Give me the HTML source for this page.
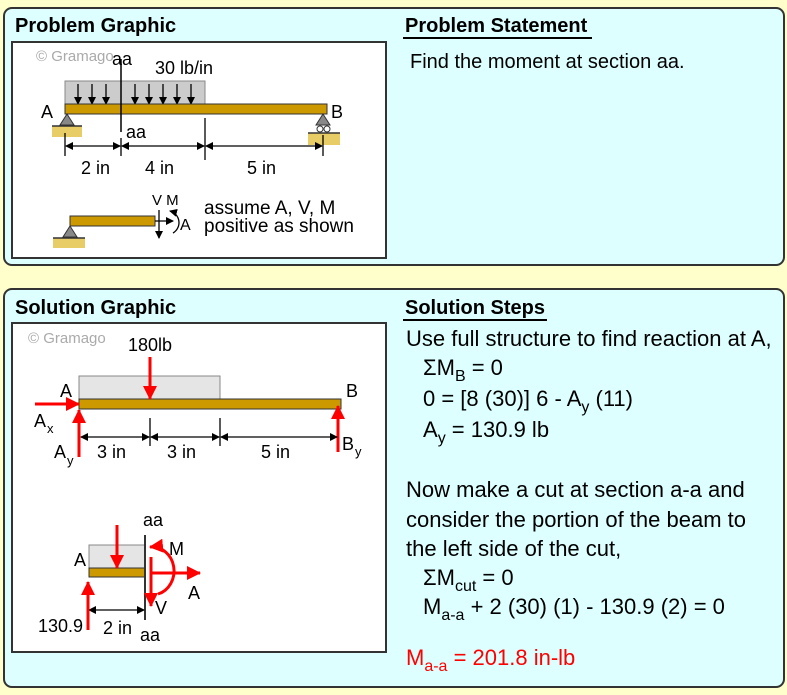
<!DOCTYPE html>
<html><head><meta charset="utf-8"><style>
html,body{margin:0;padding:0;background:#ffffcc}
svg{display:block}
text{font-family:"Liberation Sans",Arial,sans-serif;fill:#000}
</style></head><body>
<svg width="787" height="695" viewBox="0 0 787 695" xmlns="http://www.w3.org/2000/svg">
<defs>
<marker id="ah" markerWidth="8" markerHeight="8" refX="7" refY="4" orient="auto" markerUnits="userSpaceOnUse"><path d="M0,0 L8,4 L0,8 Z" fill="#000"/></marker>
<marker id="ahs" markerWidth="8" markerHeight="8" refX="1" refY="4" orient="auto" markerUnits="userSpaceOnUse"><path d="M8,0 L0,4 L8,8 Z" fill="#000"/></marker>
<marker id="rh" markerWidth="14" markerHeight="14" refX="13" refY="7" orient="auto" markerUnits="userSpaceOnUse"><path d="M0,0 L14,7 L0,14 Z" fill="#f00"/></marker>
</defs>
<rect x="0" y="0" width="787" height="695" fill="#ffffcc"/>
<!-- top panel -->
<rect x="4" y="8" width="780" height="257" rx="8" fill="#ddffff" stroke="#333" stroke-width="2"/>
<rect x="12" y="42" width="374" height="216" fill="#fff" stroke="#333" stroke-width="2"/>
<text x="15" y="32" font-size="20" font-weight="bold">Problem Graphic</text>
<text x="405" y="32" font-size="20" font-weight="bold">Problem Statement</text>
<line x1="403" y1="38" x2="592" y2="38" stroke="#000" stroke-width="2"/>
<text x="410" y="68" font-size="20">Find the moment at section aa.</text>
<text x="36" y="61" font-size="15" style="fill:#aaa">© Gramago</text>
<rect x="65" y="81" width="140" height="23" fill="#ccc" stroke="#888"/>
<g stroke="#000" stroke-width="1.3" marker-end="url(#ah)">
<line x1="78" y1="84" x2="78" y2="104"/><line x1="92" y1="84" x2="92" y2="104"/><line x1="106" y1="84" x2="106" y2="104"/><line x1="135" y1="84" x2="135" y2="104"/><line x1="149" y1="84" x2="149" y2="104"/><line x1="163" y1="84" x2="163" y2="104"/><line x1="177" y1="84" x2="177" y2="104"/><line x1="191" y1="84" x2="191" y2="104"/>
</g>
<rect x="65" y="104" width="262" height="10" fill="#cc9900" stroke="#333"/>
<line x1="121" y1="59" x2="121" y2="132" stroke="#000" stroke-width="1.5"/>
<text x="112" y="65" font-size="18">aa</text>
<text x="126" y="138" font-size="18">aa</text>
<text x="155" y="74" font-size="18">30 lb/in</text>
<text x="41" y="118" font-size="18">A</text>
<text x="331" y="118" font-size="18">B</text>
<path d="M67,114 L60,125 L74,125 Z" fill="#888" stroke="#333"/>
<rect x="52" y="126" width="30" height="11" fill="#e8cc66"/><line x1="52" y1="126" x2="82" y2="126" stroke="#333" stroke-width="1.5"/>
<path d="M323,114 L316,125 L330,125 Z" fill="#888" stroke="#333"/>
<circle cx="320" cy="129" r="3" fill="#fff" stroke="#333"/><circle cx="327" cy="129" r="3" fill="#fff" stroke="#333"/>
<rect x="308" y="133" width="32" height="12" fill="#e8cc66"/><line x1="308" y1="133" x2="340" y2="133" stroke="#333" stroke-width="1.5"/>
<g stroke="#000" stroke-width="1.3">
<line x1="65" y1="133" x2="65" y2="156"/><line x1="121" y1="138" x2="121" y2="156"/><line x1="205" y1="118" x2="205" y2="160"/><line x1="323" y1="135" x2="323" y2="156"/>
<line x1="66" y1="146" x2="120" y2="146" marker-end="url(#ah)" marker-start="url(#ahs)"/>
<line x1="122" y1="146" x2="204" y2="146" marker-end="url(#ah)" marker-start="url(#ahs)"/>
<line x1="206" y1="146" x2="322" y2="146" marker-end="url(#ah)" marker-start="url(#ahs)"/>
</g>
<text x="81" y="174" font-size="18">2 in</text>
<text x="145" y="174" font-size="18">4 in</text>
<text x="247" y="174" font-size="18">5 in</text>
<rect x="70" y="216" width="85" height="10" fill="#cc9900" stroke="#333"/>
<path d="M70,226 L63,237 L77,237 Z" fill="#888" stroke="#333"/>
<rect x="53" y="238" width="32" height="10" fill="#e8cc66"/><line x1="53" y1="238" x2="85" y2="238" stroke="#333" stroke-width="1.5"/>
<g stroke="#000" stroke-width="1.3">
<line x1="155" y1="221" x2="173" y2="221" marker-end="url(#ah)"/>
<line x1="159" y1="210" x2="159" y2="238" marker-end="url(#ah)"/>
<path d="M173,233 A12,12 0 0 0 170,211" fill="none" marker-end="url(#ah)"/>
</g>
<text x="152" y="205" font-size="15">V M</text>
<text x="180" y="230" font-size="16">A</text>
<text x="204" y="214" font-size="19">assume A, V, M</text>
<text x="204" y="232" font-size="19">positive as shown</text>

<!-- bottom panel -->
<rect x="4" y="289" width="780" height="398" rx="8" fill="#ddffff" stroke="#333" stroke-width="2"/>
<rect x="12" y="323" width="374" height="329" fill="#fff" stroke="#333" stroke-width="2"/>
<text x="15" y="314" font-size="20" font-weight="bold">Solution Graphic</text>
<text x="405" y="314" font-size="20" font-weight="bold">Solution Steps</text>
<line x1="403" y1="320" x2="547" y2="320" stroke="#000" stroke-width="2"/>
<text x="28" y="343" font-size="15" style="fill:#aaa">© Gramago</text>
<text x="128" y="351" font-size="18">180lb</text>
<rect x="79" y="376" width="141" height="23" fill="#e5e5e5" stroke="#888"/>
<rect x="79" y="399" width="262" height="10" fill="#cc9900" stroke="#333"/>
<g stroke="#f00" stroke-width="3">
<line x1="150" y1="357" x2="150" y2="399" marker-end="url(#rh)"/>
<line x1="35" y1="404" x2="79" y2="404" marker-end="url(#rh)"/>
<line x1="79" y1="457" x2="79" y2="410" marker-end="url(#rh)"/>
<line x1="338" y1="452" x2="338" y2="406" marker-end="url(#rh)"/>
</g>
<text x="60" y="397" font-size="18">A</text>
<text x="346" y="397" font-size="18">B</text>
<text x="34" y="427" font-size="18">A</text><text x="47" y="433" font-size="13">x</text>
<text x="54" y="458" font-size="18">A</text><text x="67" y="465" font-size="13">y</text>
<text x="342" y="450" font-size="18">B</text><text x="355" y="456" font-size="13">y</text>
<g stroke="#000" stroke-width="1.3">
<line x1="150" y1="418" x2="150" y2="446"/><line x1="220" y1="418" x2="220" y2="446"/>
<line x1="81" y1="437" x2="149" y2="437" marker-end="url(#ah)" marker-start="url(#ahs)"/>
<line x1="151" y1="437" x2="219" y2="437" marker-end="url(#ah)" marker-start="url(#ahs)"/>
<line x1="221" y1="437" x2="337" y2="437" marker-end="url(#ah)" marker-start="url(#ahs)"/>
</g>
<text x="97" y="458" font-size="18">3 in</text>
<text x="167" y="458" font-size="18">3 in</text>
<text x="261" y="458" font-size="18">5 in</text>

<rect x="89" y="545" width="56" height="23" fill="#e5e5e5" stroke="#888"/>
<rect x="89" y="568" width="56" height="9" fill="#cc9900" stroke="#333"/>
<line x1="145" y1="535" x2="145" y2="620" stroke="#333" stroke-width="2"/>
<text x="143" y="526" font-size="18">aa</text>
<text x="74" y="566" font-size="18">A</text>
<text x="38" y="632" font-size="18">130.9</text>
<text x="103" y="634" font-size="18">2 in</text>
<text x="140" y="641" font-size="18">aa</text>
<text x="169" y="555" font-size="18">M</text>
<text x="188" y="599" font-size="18">A</text>
<text x="155" y="614" font-size="18">V</text>
<line x1="89" y1="610" x2="144" y2="610" stroke="#000" stroke-width="1.3" marker-end="url(#ah)" marker-start="url(#ahs)"/>
<g stroke="#f00" stroke-width="3" fill="none">
<line x1="117" y1="525" x2="117" y2="568" marker-end="url(#rh)"/>
<line x1="88" y1="630" x2="88" y2="582" marker-end="url(#rh)"/>
<line x1="151" y1="557" x2="151" y2="606" marker-end="url(#rh)"/>
<line x1="150" y1="573" x2="200" y2="573" marker-end="url(#rh)"/>
<path d="M158,594 A22,24 0 0 0 150,547" marker-end="url(#rh)"/>
</g>

<g font-size="22">
<text x="406" y="346">Use full structure to find reaction at A,</text>
<text x="423" y="375">ΣM<tspan font-size="16" dy="6">B</tspan><tspan dy="-6"> = 0</tspan></text>
<text x="423" y="406">0 = [8 (30)] 6 - A<tspan font-size="16" dy="6">y</tspan><tspan dy="-6"> (11)</tspan></text>
<text x="423" y="437">A<tspan font-size="16" dy="6">y</tspan><tspan dy="-6"> = 130.9 lb</tspan></text>
<text x="406" y="497">Now make a cut at section a-a and</text>
<text x="406" y="527">consider the portion of the beam to</text>
<text x="406" y="556">the left side of the cut,</text>
<text x="423" y="585">ΣM<tspan font-size="16" dy="6">cut</tspan><tspan dy="-6"> = 0</tspan></text>
<text x="423" y="614">M<tspan font-size="16" dy="6">a-a</tspan><tspan dy="-6"> + 2 (30) (1) - 130.9 (2) = 0</tspan></text>
<text x="406" y="665" style="fill:#f00">M<tspan font-size="16" dy="6" style="fill:#f00">a-a</tspan><tspan dy="-6" style="fill:#f00"> = 201.8 in-lb</tspan></text>
</g>
</svg>
</body></html>
